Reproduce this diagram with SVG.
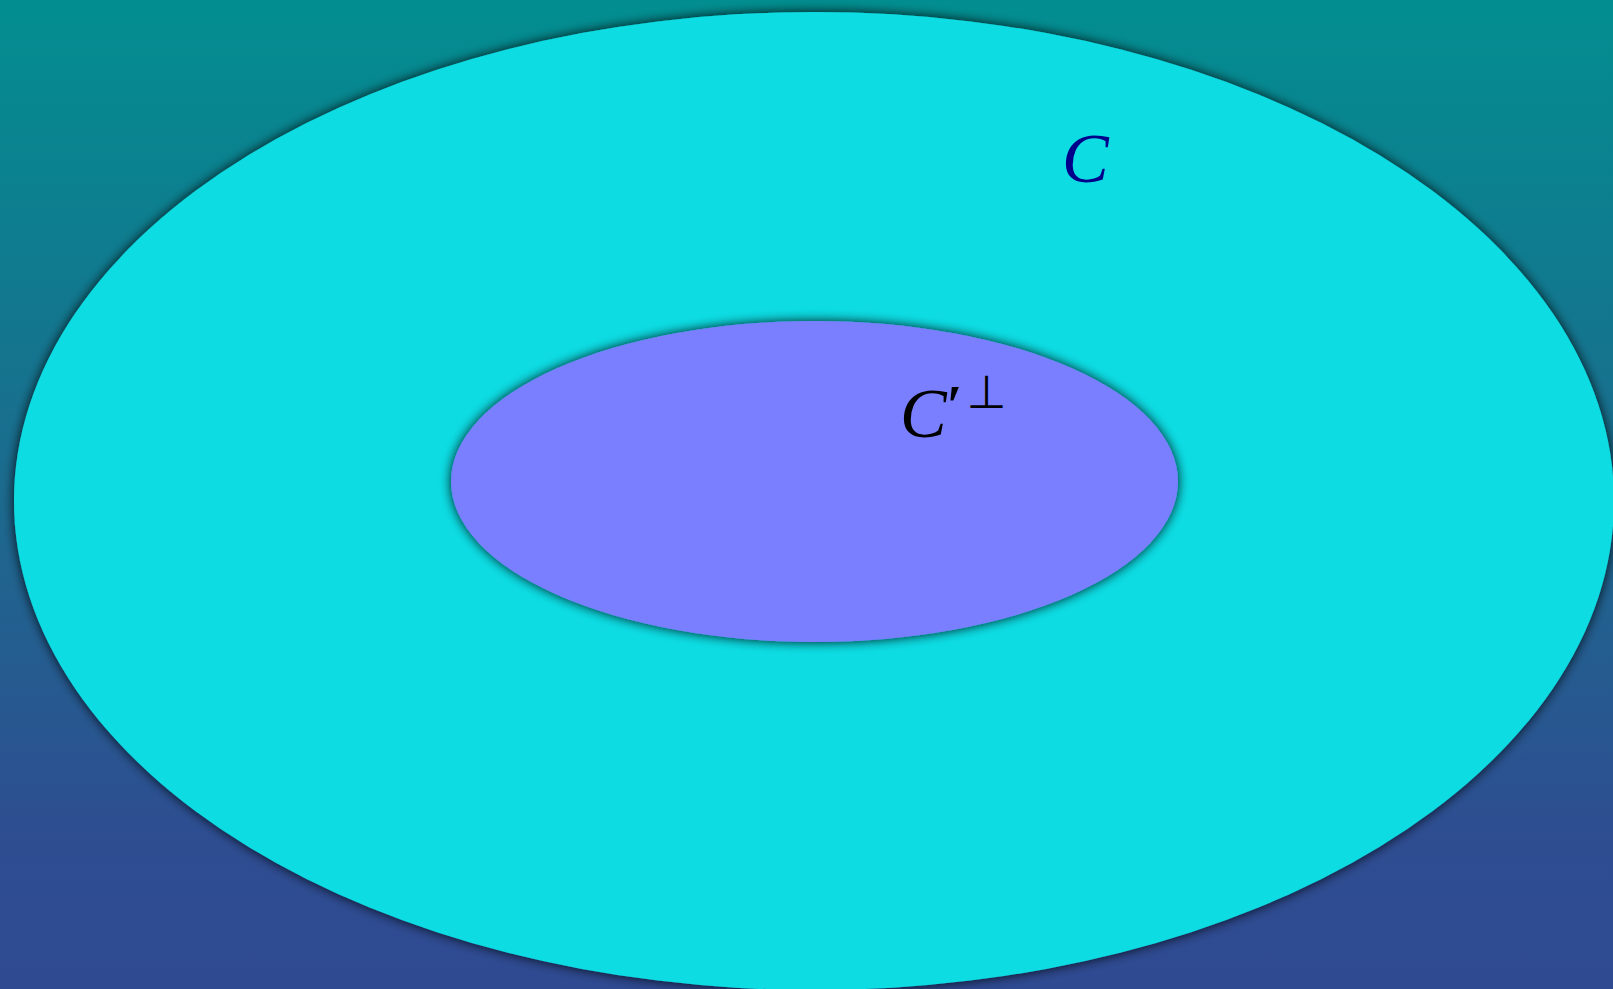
<svg xmlns="http://www.w3.org/2000/svg" width="1613" height="989" viewBox="0 0 1613 989">
<defs>
<linearGradient id="bg" x1="0" y1="0" x2="0" y2="1">
<stop offset="0" stop-color="#028E90"/>
<stop offset="0.5" stop-color="#1C6A8E"/>
<stop offset="0.85" stop-color="#2E4D91"/>
<stop offset="1" stop-color="#2F4A91"/>
</linearGradient>
<filter id="sh" x="-10%" y="-10%" width="120%" height="120%">
<feGaussianBlur in="SourceAlpha" stdDeviation="6"/>
<feComponentTransfer><feFuncA type="linear" slope="0.9"/></feComponentTransfer>
<feMerge><feMergeNode/><feMergeNode in="SourceGraphic"/></feMerge>
</filter>
<style>
.lbl{font-family:"Liberation Serif","DejaVu Serif",serif;font-style:italic;font-size:70px}
.sym{font-family:"DejaVu Sans",sans-serif;font-style:normal}
</style>
</defs>
<rect x="0" y="0" width="1613" height="989" fill="url(#bg)"/>
<g id="outer">
<ellipse cx="814" cy="501" rx="800" ry="489" fill="#11DCE3" filter="url(#sh)"/>
<text class="lbl" x="1062" y="182" fill="#00008B">C</text>
</g>
<g id="inner">
<ellipse cx="814.5" cy="481.5" rx="363.5" ry="160.5" fill="#7A7FFF" filter="url(#sh)"/>
<text class="lbl" x="900" y="437" fill="#000000">C<tspan font-style="normal" font-weight="bold" font-size="56" dy="-12">′</tspan><tspan class="sym" font-size="46" dx="4" dy="-17">⊥</tspan></text>
</g>
<g id="connectors"/>
</svg>
